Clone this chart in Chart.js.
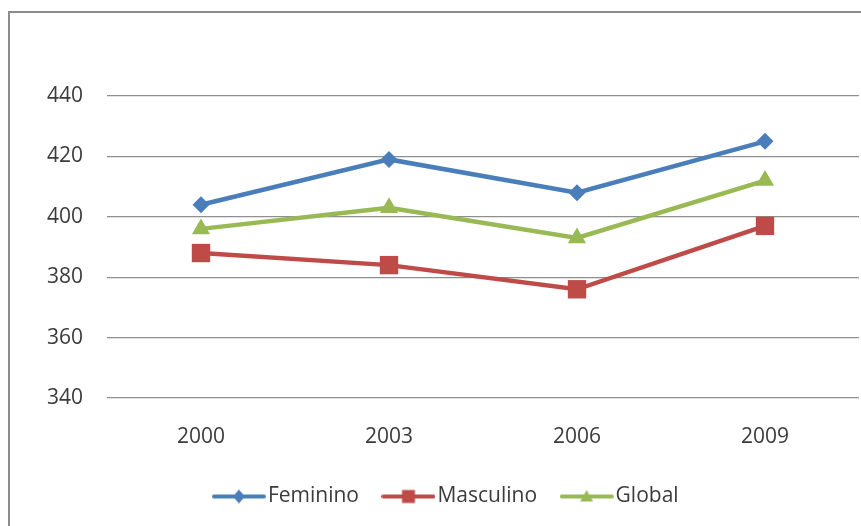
<!DOCTYPE html>
<html>
<head>
<meta charset="utf-8">
<script src="https://cdn.jsdelivr.net/npm/chart.js@4/dist/chart.umd.min.js"></script>
<style>
  html, body { margin: 0; padding: 0; background: #ffffff; }
  #wrap { width: 861px; height: 526px; position: relative; }
</style>
</head>
<body>
<div id="wrap"><canvas id="chart" width="861" height="526"></canvas></div>
<script>
// Scores by sex, survey years 2000-2009
const years = ['2000', '2003', '2006', '2009'];
const feminino = [404, 419, 408, 425];
const masculino = [388, 384, 376, 397];
const global = [396, 403, 393, 412];
const yTicks = [340, 360, 380, 400, 420, 440];

const FONT = '"Open Sans", "DejaVu Sans", sans-serif';
const TEXT = '#3b3b3b';
const FS = 21;

// Legend icon: short line with the series marker in the middle
function legendIcon(color, shape) {
  const c = document.createElement('canvas');
  c.width = 54; c.height = 20;
  const g = c.getContext('2d');
  g.strokeStyle = color; g.lineWidth = 4; g.lineCap = 'round';
  g.beginPath(); g.moveTo(2, 10); g.lineTo(52, 10); g.stroke();
  g.fillStyle = color;
  g.beginPath();
  if (shape === 'diamond') {
    g.moveTo(27, 3); g.lineTo(33, 10); g.lineTo(27, 17); g.lineTo(21, 10);
  } else if (shape === 'square') {
    g.rect(20.5, 3.5, 13, 13);
  } else {
    g.moveTo(27, 3.5); g.lineTo(33.5, 15); g.lineTo(20.5, 15);
  }
  g.closePath(); g.fill();
  return c;
}

const icons = [
  legendIcon('#4a7ebb', 'diamond'),
  legendIcon('#be4b48', 'square'),
  legendIcon('#98b954', 'triangle')
];

// Gray frame around the chart
const framePlugin = {
  id: 'frame',
  beforeDraw(chart) {
    const ctx = chart.ctx;
    ctx.save();
    ctx.strokeStyle = '#8c8c8c';
    ctx.lineWidth = 2;
    ctx.strokeRect(9, 12, 900, 600);
    ctx.restore();
  }
};

new Chart(document.getElementById('chart'), {
  type: 'line',
  data: {
    labels: years,
    datasets: [
      {
        label: 'Feminino', data: feminino,
        borderColor: '#4a7ebb', backgroundColor: '#4a7ebb',
        borderWidth: 4.5, pointStyle: 'rectRot', pointRadius: 8.5, pointHoverRadius: 8.5,
        pointBorderWidth: 0, tension: 0, clip: false
      },
      {
        label: 'Masculino', data: masculino,
        borderColor: '#be4b48', backgroundColor: '#be4b48',
        borderWidth: 4.5, pointStyle: 'rect', pointRadius: 13, pointHoverRadius: 13,
        pointBorderWidth: 0, tension: 0, clip: false
      },
      {
        label: 'Global', data: global,
        borderColor: '#98b954', backgroundColor: '#98b954',
        borderWidth: 4.5, pointStyle: 'triangle', pointRadius: 10.5, pointHoverRadius: 10.5,
        pointBorderWidth: 0, tension: 0, clip: false
      }
    ]
  },
  options: {
    responsive: false,
    animation: false,
    layout: { autoPadding: false, padding: { top: 96, right: 2, bottom: 9, left: 40 } },
    scales: {
      x: {
        offset: true,
        grid: { display: false, drawTicks: false },
        border: { display: false },
        ticks: { color: TEXT, font: { family: FONT, size: FS }, padding: 26 },
        afterFit(scale) {
          scale.height = 57;
          scale.paddingLeft = 0;
          scale.paddingRight = 0;
        }
      },
      y: {
        min: 340, max: 440,
        afterBuildTicks(scale) { scale.ticks = yTicks.map(v => ({ value: v })); },
        grid: { color: '#8f8f8f', lineWidth: 1.2, drawTicks: false },
        border: { display: false },
        ticks: { color: TEXT, font: { family: FONT, size: FS }, padding: 24 },
        afterFit(scale) { scale.width = 67; }
      }
    },
    plugins: {
      tooltip: { enabled: false },
      legend: {
        position: 'bottom',
        labels: {
          usePointStyle: true,
          pointStyleWidth: 37,
          padding: 31,
          color: TEXT,
          font: { family: FONT, size: FS },
          generateLabels(chart) {
            const items = Chart.defaults.plugins.legend.labels.generateLabels(chart);
            items.forEach((it, i) => { it.pointStyle = icons[i]; });
            return items;
          }
        }
      }
    }
  },
  plugins: [framePlugin]
});
</script>
</body>
</html>
